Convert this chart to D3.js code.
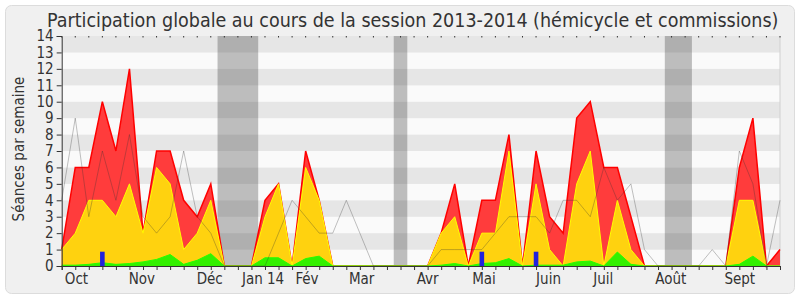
<!DOCTYPE html>
<html><head><meta charset="utf-8">
<script src="https://cdn.jsdelivr.net/npm/d3@7"></script>
<style>
body{margin:0;background:#fff;}
svg text{font-family:"DejaVu Sans Condensed","DejaVu Sans",sans-serif;font-stretch:condensed;fill:#333;}
</style></head><body>
<svg id="c" width="800" height="300"></svg>
<script>
// Weekly series (week index 0..53)
const weeks = d3.range(54);
const totalSeances = [1,6,6,10,7,12,2,7,7,4,3,5,0,0,0,4,5,0,7,4,0,0,0,0,0,0,0,0,2,5,0,4,4,8,0,7,3,2,9,10,6,6,3,0,0,0,0,0,0,0,6,9,0,1];
const commission   = [1,2,4,4,3,5,2,6,5,1,2,4,0,0,0,3,5,0,6,4,0,0,0,0,0,0,0,0,2,3,0,2,2,7,0,5,1,0,5,7,0,4,1,0,0,0,0,0,0,0,4,4,0,0];
const hemicycle    = [0.05,0.05,0.1,0.2,0.1,0.15,0.25,0.4,0.7,0.1,0.35,0.75,0,0,0,0.5,0.5,0,0.45,0.6,0,0,0,0,0,0,0,0,0.05,0.15,0,0.15,0.2,0.45,0,0.05,0.05,0.05,0.25,0.3,0,0.85,0.1,0,0,0,0,0,0,0,0.1,0.6,0,0];
const mediane      = [4,9,3,7,4,8,3,2,3,7,3,2,0,0,0,0,2,4,3,2,2,4,2,0,0,0,0,0,1,1,1,1,2,3,3,3,2,4,4,3,6,4,5,1,0,0,0,0,1,0,7,5,0,4];
const questionWeeks = [3,31,35];
const questionValues = [0.87,0.87,0.87];
const vacances = [[11.5,14.5],[24.5,25.5],[44.5,46.5]];
const monthLabels = ["Oct","Nov","Déc","Jan 14","Fév","Mar","Avr","Mai","Juin","Juil","Août","Sept"];
const monthPos = [1.09,5.92,10.92,14.86,18.1,22.13,27.0,31.16,35.92,39.96,44.94,50.03];
const yTicks = d3.range(0,15);

const svg = d3.select("#c");
const L=61.7,R=780,T=36,B=266;
const x = d3.scaleLinear().domain([0,53]).range([L,R]);
const y = d3.scaleLinear().domain([0,14]).range([B,T]);

svg.append("rect").attr("x",5.5).attr("y",5.5).attr("width",789).attr("height",288).attr("rx",6)
  .attr("fill","#f0f0f0").attr("stroke","#dcdcdc");

// grid bands
svg.append("g").selectAll("rect").data(d3.range(14)).join("rect")
  .attr("x",L).attr("width",R-L)
  .attr("y",d=>y(d+1)).attr("height",d=>y(d)-y(d+1))
  .attr("fill",d=>d%2===1?"#e6e6e6":"#fafafa");
svg.append("line").attr("x1",R).attr("x2",R).attr("y1",T).attr("y2",B).attr("stroke","#d0d0d0");

// vacation bands
svg.append("g").selectAll("rect").data(vacances).join("rect")
  .attr("x",d=>x(d[0])).attr("width",d=>x(d[1])-x(d[0]))
  .attr("y",T).attr("height",B-T).attr("fill","rgba(50,50,50,0.3)");

function area(vals){return d3.area().x((d,i)=>x(weeks[i])).y0(y(0)).y1(d=>y(d))(vals);}
function line(vals){return d3.line().x((d,i)=>x(weeks[i])).y(d=>y(d))(vals);}

svg.append("path").attr("d",area(totalSeances)).attr("fill","#ff3c3c");
svg.append("path").attr("d",line(totalSeances)).attr("fill","none").attr("stroke","#ff0000").attr("stroke-width",1.5);
svg.append("path").attr("d",area(commission)).attr("fill","#ffd20f");
svg.append("path").attr("d",line(commission)).attr("fill","none").attr("stroke","#ffff00").attr("stroke-width",1);
svg.append("path").attr("d",area(hemicycle)).attr("fill","#33f000");
svg.append("path").attr("d",line(hemicycle)).attr("fill","none").attr("stroke","#22ff00").attr("stroke-width",1);
svg.append("path").attr("d",line(mediane)).attr("fill","none").attr("stroke","rgba(50,50,50,0.3)").attr("stroke-width",1);

svg.append("g").selectAll("rect").data(questionWeeks).join("rect")
  .attr("x",d=>x(d)-2.3).attr("width",4.6)
  .attr("y",(d,i)=>y(questionValues[i])).attr("height",(d,i)=>y(0)-y(questionValues[i]))
  .attr("fill","#2222dd");

// axes
const gy = svg.append("g").attr("transform",`translate(${L},0)`)
  .call(d3.axisLeft(y).tickValues(yTicks).tickSize(5).tickPadding(3));
gy.select(".domain").attr("stroke","#333");
gy.selectAll(".tick line").attr("stroke","#333");
gy.selectAll("text").style("font-size","15px").attr("fill","#333");

const gx = svg.append("g").attr("transform",`translate(0,${B})`)
  .call(d3.axisBottom(x).tickValues(weeks).tickSize(4).tickFormat(""));
gx.select(".domain").attr("stroke","#333");
gx.selectAll(".tick line").attr("stroke","#333");

svg.append("g").selectAll("line").data(weeks).join("line")
  .attr("x1",d=>x(d)).attr("x2",d=>x(d)).attr("y1",T).attr("y2",T+1.5).attr("stroke","#333");

svg.append("g").selectAll("text").data(monthLabels).join("text")
  .attr("x",(d,i)=>x(monthPos[i])).attr("y",284).attr("text-anchor","middle")
  .style("font-size","15px").text(d=>d);

svg.append("text").attr("transform","translate(24,149) rotate(-90)").attr("text-anchor","middle")
  .style("font-size","15px").text("Séances par semaine");

svg.append("text").attr("x",47).attr("y",27).style("font-size","19.5px").attr("fill","#222")
  .text("Participation globale au cours de la session 2013-2014 (hémicycle et commissions)");
</script></body></html>
